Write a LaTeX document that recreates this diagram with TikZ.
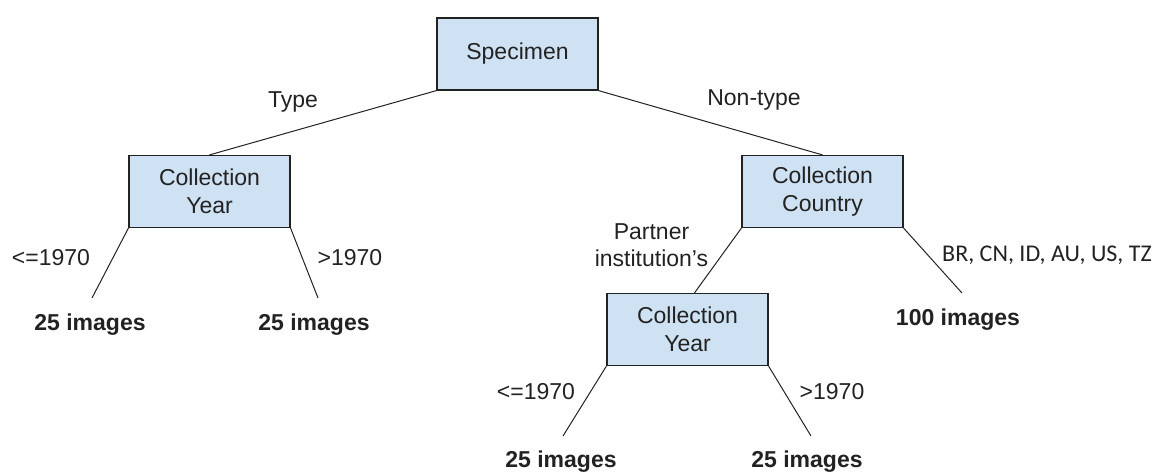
\documentclass[tikz,border=0pt]{standalone}
\usepackage{fontspec}
\setmainfont{Liberation Sans}
\newfontfamily\carlito{Carlito}
\usepackage{xcolor}
\usetikzlibrary{calc,positioning}
\definecolor{boxblue}{HTML}{CFE2F3}
\definecolor{inkgray}{HTML}{222222}

\begin{document}
\begin{tikzpicture}[x=0.5pt, y=-0.5pt,
    every node/.style={font=\fontsize{11.5}{14}\selectfont, text=inkgray, inner sep=0pt},
    splitbox/.style={draw=inkgray, line width=0.6pt, fill=boxblue, minimum width=80.5pt, minimum height=36pt, align=center},
    branch/.style={draw=inkgray, line width=0.5pt},
    leaf/.style={font=\fontsize{11.5}{14}\selectfont\bfseries}]
    \useasboundingbox (0, 0) rectangle (1164, 473);

    % Split nodes
    \node[splitbox] (specimen) at (517.5, 54) {Specimen};
    \node[splitbox] (yearA) at (209.5, 191.5) {Collection\\Year};
    \node[splitbox] (country) at (822.5, 191.5) {Collection\\Country};
    \node[splitbox] (yearB) at (687.5, 329.5) {Collection\\Year};

    % Leaves
    \node[leaf] (leafA) at (90, 325) {25 images};
    \node[leaf] (leafB) at (314, 325) {25 images};
    \node[leaf] (leafC) at (958, 320) {100 images};
    \node[leaf] (leafD) at (561, 462) {25 images};
    \node[leaf] (leafE) at (807, 462) {25 images};

    % Free ends of the leaf branches
    \coordinate (endA) at (92, 298);
    \coordinate (endB) at (318, 298);
    \coordinate (endC) at (962, 293);
    \coordinate (endD) at (563, 436);
    \coordinate (endE) at (811, 436);

    % Branches
    \draw[branch] (specimen.south west) -- (yearA.north);
    \draw[branch] (specimen.south east) -- (country.north);
    \draw[branch] (yearA.south west) -- (endA);
    \draw[branch] (yearA.south east) -- (endB);
    \draw[branch] (country.south west) -- ($(yearB.north)+(7, 0)$);
    \draw[branch] (country.south east) -- (endC);
    \draw[branch] (yearB.south west) -- (endD);
    \draw[branch] (yearB.south east) -- (endE);

    % Branch labels
    \node (lblType) at (293, 102) {Type};
    \node (lblNonType) at (754, 100) {Non-type};
    \node (lblOldA) at (51, 258) {<=1970};
    \node (lblNewA) at (350, 258) {>1970};
    \node[align=center, font=\fontsize{11.5}{13.5}\selectfont] (lblPartner) at (651.5, 245.5) {Partner\\institution’s};
    \node[font=\fontsize{12}{14}\carlito] (lblCountries) at (1047, 255) {BR, CN, ID, AU, US, TZ};
    \node (lblOldB) at (536, 392) {<=1970};
    \node (lblNewB) at (832, 392) {>1970};
\end{tikzpicture}
\end{document}
